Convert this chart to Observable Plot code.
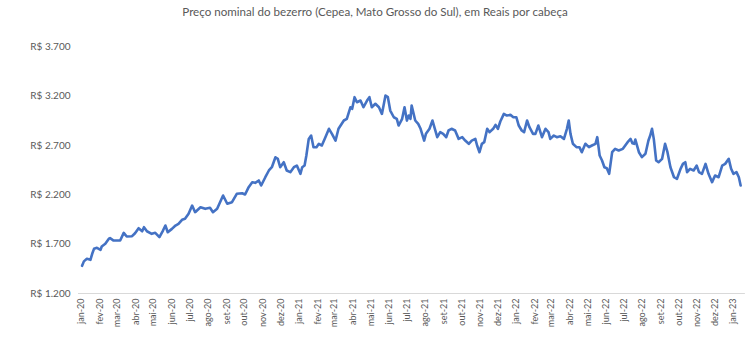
<!DOCTYPE html>
<html><head><meta charset="utf-8">
<script src="https://cdn.jsdelivr.net/npm/d3@7"></script>
<script src="https://cdn.jsdelivr.net/npm/@observablehq/plot@0.6"></script>
<style>
body{margin:0;background:#fff;}
#title{width:750px;height:24px;font:11.6px Lato, sans-serif;color:#595959;text-align:center;line-height:24px;white-space:nowrap;}
</style></head><body>
<div id="title">Preço nominal do bezerro (Cepea, Mato Grosso do Sul), em Reais por cabeça</div>
<div id="chart"></div>
<script>
const dates = [
"2020-01-02","2020-01-05","2020-01-10","2020-01-16","2020-01-19","2020-01-22","2020-01-27","2020-02-02","2020-02-04","2020-02-10",
"2020-02-16","2020-02-18","2020-02-24","2020-03-06","2020-03-12","2020-03-17","2020-03-26","2020-03-31","2020-04-06","2020-04-12",
"2020-04-15","2020-04-20","2020-04-28","2020-05-04","2020-05-11","2020-05-17","2020-05-21","2020-05-25","2020-06-01","2020-06-07",
"2020-06-12","2020-06-18","2020-06-23","2020-06-29","2020-07-05","2020-07-10","2020-07-19","2020-07-27","2020-08-04","2020-08-09",
"2020-08-16","2020-08-26","2020-09-02","2020-09-10","2020-09-18","2020-09-27","2020-10-02","2020-10-08","2020-10-14","2020-10-19",
"2020-10-25","2020-10-29","2020-11-05","2020-11-11","2020-11-16","2020-11-22","2020-11-26","2020-11-30","2020-12-06","2020-12-11",
"2020-12-17","2020-12-23","2020-12-28","2021-01-03","2021-01-06","2021-01-10","2021-01-13","2021-01-17","2021-01-21","2021-01-25",
"2021-01-30","2021-02-03","2021-02-08","2021-02-14","2021-02-20","2021-02-25","2021-03-03","2021-03-08","2021-03-17","2021-03-22",
"2021-03-28","2021-03-31","2021-04-04","2021-04-08","2021-04-14","2021-04-19","2021-04-25","2021-04-29","2021-05-03","2021-05-09",
"2021-05-15","2021-05-20","2021-05-26","2021-05-30","2021-06-03","2021-06-09","2021-06-14","2021-06-17","2021-06-23","2021-06-27",
"2021-07-01","2021-07-04","2021-07-07","2021-07-09","2021-07-15","2021-07-20","2021-07-24","2021-07-30","2021-08-02","2021-08-08",
"2021-08-13","2021-08-17","2021-08-21","2021-08-26","2021-08-31","2021-09-05","2021-09-09","2021-09-14","2021-09-20","2021-09-26",
"2021-10-02","2021-10-07","2021-10-13","2021-10-18","2021-10-24","2021-10-27","2021-10-31","2021-11-04","2021-11-08","2021-11-13",
"2021-11-17","2021-11-23","2021-11-27","2021-12-01","2021-12-05","2021-12-11","2021-12-16","2021-12-22","2021-12-27","2022-01-01",
"2022-01-05","2022-01-10","2022-01-14","2022-01-19","2022-01-23","2022-01-29","2022-02-02","2022-02-07","2022-02-13","2022-02-19",
"2022-02-24","2022-02-27","2022-03-05","2022-03-10","2022-03-16","2022-03-22","2022-03-27","2022-03-30","2022-04-02","2022-04-06",
"2022-04-12","2022-04-17","2022-04-21","2022-04-27","2022-05-03","2022-05-08","2022-05-14","2022-05-17","2022-05-21","2022-05-25",
"2022-05-29","2022-06-02","2022-06-06","2022-06-11","2022-06-16","2022-06-22","2022-06-29","2022-07-03","2022-07-07","2022-07-12",
"2022-07-15","2022-07-18","2022-07-20","2022-07-26","2022-07-31","2022-08-06","2022-08-11","2022-08-14","2022-08-17","2022-08-20",
"2022-08-24","2022-08-28","2022-09-03","2022-09-08","2022-09-12","2022-09-17","2022-09-23","2022-09-28","2022-10-04","2022-10-08",
"2022-10-12","2022-10-15","2022-10-20","2022-10-26","2022-10-31","2022-11-04","2022-11-09","2022-11-15","2022-11-20","2022-11-26",
"2022-12-01","2022-12-07","2022-12-13","2022-12-18","2022-12-24","2022-12-28","2023-01-01","2023-01-06","2023-01-10","2023-01-13"
];
const values = [
1480,1525,1551,1541,1602,1652,1662,1642,1676,1703,
1754,1760,1736,1736,1814,1777,1780,1810,1861,1830,
1871,1830,1804,1814,1770,1837,1888,1820,1854,1888,
1905,1946,1956,2007,2090,2023,2073,2057,2067,2023,
2057,2192,2108,2124,2209,2215,2202,2276,2326,2320,
2344,2293,2377,2445,2478,2579,2563,2478,2529,2445,
2428,2478,2495,2411,2478,2495,2597,2765,2799,2681,
2681,2715,2698,2782,2867,2816,2748,2867,2951,2968,
3085,3069,3187,3136,3153,3085,3153,3187,3085,3120,
3085,3018,3204,3187,3052,2984,2968,2900,2968,3085,
2950,3001,2968,3103,2951,2917,2867,2748,2816,2867,
2951,2867,2782,2833,2816,2782,2850,2867,2850,2765,
2782,2748,2715,2748,2765,2698,2630,2715,2732,2867,
2833,2867,2907,2867,2941,3018,3001,3008,2984,2984,
2900,2850,2833,2951,2883,2816,2816,2900,2782,2867,
2833,2765,2799,2782,2792,2765,2867,2951,2816,2715,
2681,2681,2630,2715,2681,2698,2715,2782,2597,2546,
2478,2468,2411,2630,2664,2647,2664,2698,2732,2765,
2720,2715,2758,2630,2580,2614,2748,2799,2867,2765,
2546,2529,2563,2715,2630,2478,2377,2361,2462,2512,
2529,2428,2462,2445,2495,2428,2411,2512,2411,2327,
2394,2377,2495,2512,2563,2462,2411,2428,2377,2293
];
const yTicks = [1200, 1700, 2200, 2700, 3200, 3700];
const monthLabels = ["jan","fev","mar","abr","mai","jun","jul","ago","set","out","nov","dez"];
const xTickRange = ["2020-01-01", "2023-01-02"];
const baselineExtent = ["2019-12-27", "2023-01-21"];

const data = dates.map((d, i) => ({date: new Date(d), value: values[i]}));
const xTicks = d3.utcMonth.range(new Date(xTickRange[0]), new Date(xTickRange[1]));
const fmtY = d => "R$ " + d3.format(",")(d).replace(/,/g, ".");
const fmtX = d => monthLabels[d.getUTCMonth()] + "-" + String(d.getUTCFullYear()).slice(2);

const chart = Plot.plot({
  width: 750, height: 326,
  marginTop: 22, marginBottom: 57, marginLeft: 81, marginRight: 17,
  style: {fontFamily: "Lato, sans-serif", color: "#595959", background: "#fff", overflow: "visible"},
  x: {type: "utc", domain: [new Date("2020-01-01"), new Date("2023-01-01")]},
  y: {domain: [1200, 3700]},
  marks: [
    Plot.ruleY([1200], {x1: new Date(baselineExtent[0]), x2: new Date(baselineExtent[1]), stroke: "#d9d9d9", strokeWidth: 1}),
    Plot.axisY({ticks: yTicks, tickSize: 0, tickPadding: 11, tickFormat: fmtY, fontSize: 10, label: null}),
    Plot.axisX({ticks: xTicks, tickSize: 0, tickPadding: 5, tickRotate: -90, tickFormat: fmtX, fontSize: 9, label: null}),
    Plot.line(data, {x: "date", y: "value", stroke: "#4472C4", strokeWidth: 2.6, strokeLinejoin: "round"})
  ]
});
document.getElementById("chart").appendChild(chart);
</script>
</body></html>
